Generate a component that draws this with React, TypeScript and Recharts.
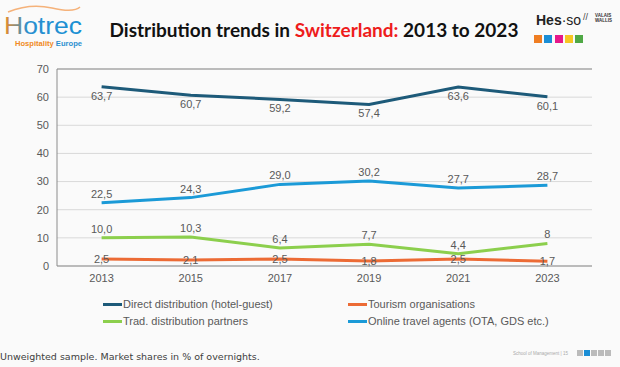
import React from 'react';
import { LineChart, Line, XAxis, YAxis, CartesianGrid, ReferenceLine, LabelList } from 'recharts';

// years on the x axis
const years = ['2013', '2015', '2017', '2019', '2021', '2023'];

// market shares in % of overnights
const direct = [63.7, 60.7, 59.2, 57.4, 63.6, 60.1];
const tourism = [2.5, 2.1, 2.5, 1.8, 2.5, 1.7];
const trad = [10.0, 10.3, 6.4, 7.7, 4.4, 8];
const ota = [22.5, 24.3, 29.0, 30.2, 27.7, 28.7];

// label text as printed on the slide
const directLabels = ['63,7', '60,7', '59,2', '57,4', '63,6', '60,1'];
const tourismLabels = ['2,5', '2,1', '2,5', '1,8', '2,5', '1,7'];
const tradLabels = ['10,0', '10,3', '6,4', '7,7', '4,4', '8'];
const otaLabels = ['22,5', '24,3', '29,0', '30,2', '27,7', '28,7'];

const yTicks = [0, 10, 20, 30, 40, 50, 60, 70];

const series = [
    { key: 'direct', name: 'Direct distribution (hotel-guest)', color: '#1d5a79', values: direct, labels: directLabels, pos: 'bottom' },
    { key: 'tourism', name: 'Tourism organisations', color: '#ec6b35', values: tourism, labels: tourismLabels, pos: 'center' },
    { key: 'trad', name: 'Trad. distribution partners', color: '#8ccf4d', values: trad, labels: tradLabels, pos: 'top' },
    { key: 'ota', name: 'Online travel agents (OTA, GDS etc.)', color: '#1b9ad7', values: ota, labels: otaLabels, pos: 'top' },
];

const data = years.map((y, i) => ({
    year: y,
    direct: direct[i],
    tourism: tourism[i],
    trad: trad[i],
    ota: ota[i],
}));

const txt = '#595959';
const font = '"Liberation Sans", Arial, sans-serif';

export default function App() {
    return (
        <div style={{ position: 'absolute', left: 0, top: 0, width: 620, height: 367, background: '#fafafa', fontFamily: font, overflow: 'hidden' }}>
            {/* Hotrec logo */}
            <svg width={110} height={50} style={{ position: 'absolute', left: 0, top: 0 }}>
                <defs>
                    <linearGradient id="hg" x1="0" x2="1" y1="0" y2="0">
                        <stop offset="0" stopColor="#f08a24" />
                        <stop offset="0.3" stopColor="#2a8fd0" />
                        <stop offset="1" stopColor="#1a8fd3" />
                    </linearGradient>
                </defs>
                <path d="M8 12 Q 30 3 52 8 T 80 7" stroke="#f5b27a" strokeWidth={1.5} fill="none" />
                <text x={4} y={34} fontSize={24} fontFamily={font} fill="url(#hg)" textLength={78} lengthAdjust="spacingAndGlyphs">Hotrec</text>
                <text x={15} y={46} fontSize={7.5} fontWeight="bold" fontFamily={font} fill="#f08a24" textLength={67} lengthAdjust="spacingAndGlyphs">Hospitality <tspan fill="#2a8fd0">Europe</tspan></text>
            </svg>

            {/* title */}
            <div style={{ position: 'absolute', left: 0, width: 620, top: 18, textAlign: 'center', fontFamily: 'Lato, sans-serif', fontWeight: 700, fontSize: 19, color: '#111', paddingLeft: 4 }}>
                Distribution trends in <span style={{ color: '#ee1c1c' }}>Switzerland:</span> 2013 to 2023
            </div>

            {/* HES-SO logo */}
            <div style={{ position: 'absolute', left: 536, top: 12, fontSize: 14, fontWeight: 'bold', color: '#222', fontFamily: font }}>
                Hes<span style={{ fontWeight: 'normal' }}>·so</span>
            </div>
            <div style={{ position: 'absolute', left: 583, top: 12, fontSize: 9, color: '#444' }}>//</div>
            <div style={{ position: 'absolute', left: 595, top: 13, fontSize: 4.5, lineHeight: '5px', color: '#333', fontWeight: 'bold' }}>VALAIS<br />WALLIS</div>
            {['#ef7d22', '#1b8ed6', '#e5188a', '#f7c623', '#4fa845'].map((c, i) => (
                <div key={c} style={{ position: 'absolute', left: 534 + i * 10.3, top: 35, width: 8, height: 8, background: c }} />
            ))}

            {/* chart */}
            <div style={{ position: 'absolute', left: 0, top: 0 }}>
                <LineChart width={620} height={290} data={data} margin={{ top: 69, right: 28, left: 17, bottom: 0 }}>
                    <CartesianGrid horizontal vertical={false} stroke="#d9d9d9" />
                    <XAxis
                        dataKey="year"
                        padding={{ left: 44.6, right: 44.6 }}
                        tick={{ fill: txt, fontSize: 11, fontFamily: font }}
                        tickLine={false}
                        axisLine={{ stroke: '#8c8c8c' }}
                        height={24}
                    />
                    <YAxis
                        domain={[0, 70]}
                        ticks={yTicks}
                        width={40}
                        tick={{ fill: txt, fontSize: 11, fontFamily: font }}
                        tickLine={false}
                        axisLine={{ stroke: '#8c8c8c' }}
                    />
                    <YAxis yAxisId="r" orientation="right" width={0} tick={false} tickLine={false} axisLine={{ stroke: '#8c8c8c' }} />
                    <ReferenceLine y={70} stroke="#8c8c8c" />
                    {series.map(s => (
                        <Line
                            key={s.key}
                            type="linear"
                            dataKey={s.key}
                            name={s.name}
                            stroke={s.color}
                            strokeWidth={3}
                            dot={false}
                            activeDot={false}
                            isAnimationActive={false}
                        >
                            <LabelList
                                dataKey={s.key}
                                position={s.pos as any}
                                offset={5}
                                fill={txt}
                                fontSize={11}
                                fontFamily={font}
                                formatter={(v: any) => {
                                    const idx = s.values.indexOf(v);
                                    return idx >= 0 ? s.labels[idx] : String(v);
                                }}
                            />
                        </Line>
                    ))}
                </LineChart>
            </div>

            {/* legend */}
            {series.map((s, i) => {
                const col = i % 2;
                const row = Math.floor(i / 2);
                const x = col === 0 ? 103 : 348;
                const y = 304 + row * 17;
                return (
                    <div key={s.key} style={{ position: 'absolute', left: x, top: y - 7, height: 14, display: 'flex', alignItems: 'center', fontSize: 11, color: txt, whiteSpace: 'nowrap' }}>
                        <span style={{ display: 'inline-block', width: 19, height: 3, background: s.color, marginRight: 1 }} />
                        {s.name}
                    </div>
                );
            })}

            {/* footnote */}
            <div style={{ position: 'absolute', left: 0, top: 351, fontFamily: '"DejaVu Sans", Verdana, sans-serif', fontSize: 9.5, color: '#404040', whiteSpace: 'nowrap' }}>
                Unweighted sample. Market shares in % of overnights.
            </div>
            <div style={{ position: 'absolute', left: 513, top: 351, fontSize: 4.5, color: '#aaa', whiteSpace: 'nowrap' }}>School of Management | 15</div>
            {['#bbb', '#1b8ed6', '#bbb', '#bbb', '#bbb'].map((c, i) => (
                <div key={i} style={{ position: 'absolute', left: 577 + i * 7, top: 350, width: 6, height: 6, background: c }} />
            ))}
        </div>
    );
}
